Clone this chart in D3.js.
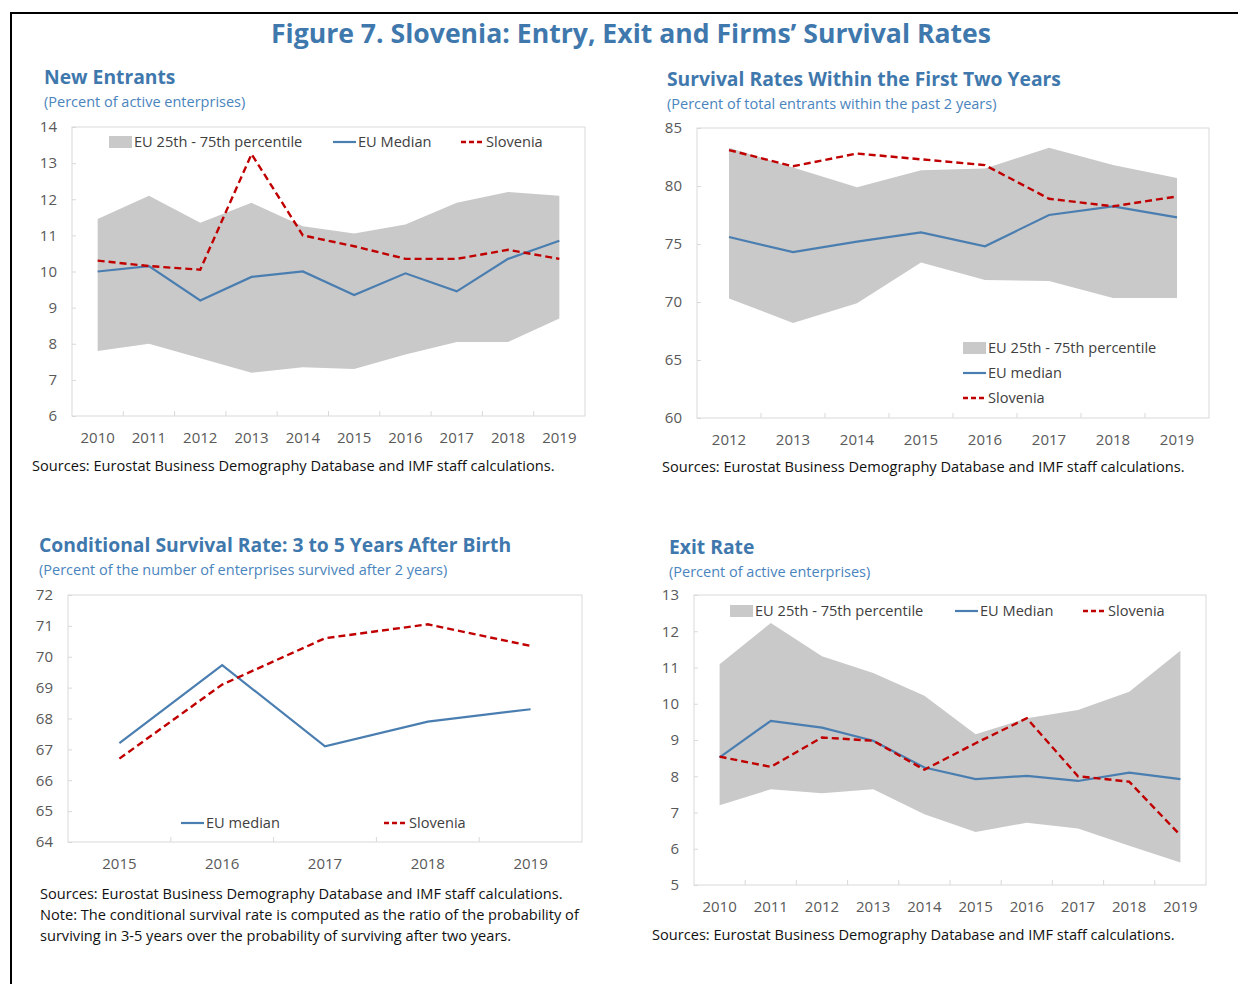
<!DOCTYPE html>
<html>
<head>
<meta charset="utf-8">
<script src="https://cdn.jsdelivr.net/npm/d3@7"></script>
<style>
  body { margin: 0; background: #fff; }
  svg { font-family: "Open Sans", sans-serif; display: block; }
  .tick-label { fill: #595959; font-size: 15px; }
  .legend-text { fill: #404040; font-size: 14.6px; }
  .panel-title { fill: #3f78ad; font-size: 19.3px; font-weight: bold; }
  .panel-sub { fill: #4a84bd; font-size: 14.5px; }
  .source { fill: #111; font-size: 14.6px; }
</style>
</head>
<body>
<div id="chart"></div>
<script>
// ---- data ----
var entryYears = ["2010","2011","2012","2013","2014","2015","2016","2017","2018","2019"];
var entryP75 = [11.45, 12.1, 11.35, 11.9, 11.25, 11.05, 11.3, 11.9, 12.2, 12.1];
var entryP25 = [7.8, 8.0, 7.6, 7.2, 7.35, 7.3, 7.7, 8.05, 8.05, 8.7];
var entryMedian = [10.0, 10.15, 9.2, 9.85, 10.0, 9.35, 9.95, 9.45, 10.35, 10.85];
var entrySlovenia = [10.3, 10.15, 10.05, 13.25, 11.0, 10.7, 10.35, 10.35, 10.6, 10.35];
var entryTicks = [6, 7, 8, 9, 10, 11, 12, 13, 14];

var survYears = ["2012","2013","2014","2015","2016","2017","2018","2019"];
var survP75 = [83.3, 81.6, 79.9, 81.35, 81.5, 83.3, 81.8, 80.7];
var survP25 = [70.3, 68.2, 69.9, 73.4, 71.9, 71.8, 70.35, 70.35];
var survMedian = [75.6, 74.3, 75.2, 76.0, 74.8, 77.5, 78.25, 77.3];
var survSlovenia = [83.1, 81.7, 82.8, 82.3, 81.8, 78.9, 78.25, 79.1];
var survTicks = [60, 65, 70, 75, 80, 85];

var condYears = ["2015","2016","2017","2018","2019"];
var condMedian = [67.2, 69.73, 67.1, 67.9, 68.3];
var condSlovenia = [66.7, 69.1, 70.6, 71.05, 70.35];
var condTicks = [64, 65, 66, 67, 68, 69, 70, 71, 72];

var exitYears = ["2010","2011","2012","2013","2014","2015","2016","2017","2018","2019"];
var exitP75 = [11.09, 12.23, 11.31, 10.85, 10.22, 9.16, 9.6, 9.83, 10.33, 11.46];
var exitP25 = [7.2, 7.64, 7.53, 7.64, 6.95, 6.46, 6.72, 6.56, 6.08, 5.62];
var exitMedian = [8.52, 9.53, 9.34, 8.98, 8.24, 7.92, 8.01, 7.87, 8.1, 7.92];
var exitSlovenia = [8.54, 8.26, 9.07, 8.98, 8.18, 8.91, 9.6, 8.0, 7.85, 6.37];
var exitTicks = [5, 6, 7, 8, 9, 10, 11, 12, 13];

var bandColor = "#c9c9c9",
    medianColor = "#4a7eb0",
    sloveniaColor = "#c00000",
    frameColor = "#d9d9d9";

var svg = d3.select("#chart").append("svg")
    .attr("width", 1238)
    .attr("height", 984);

// outer frame (left and top edges only are visible)
svg.append("line").attr("x1", 11).attr("x2", 11).attr("y1", 12).attr("y2", 984)
    .attr("stroke", "#000").attr("stroke-width", 2);
svg.append("line").attr("x1", 10).attr("x2", 1238).attr("y1", 13).attr("y2", 13)
    .attr("stroke", "#000").attr("stroke-width", 2);

svg.append("text")
    .attr("x", 631).attr("y", 43)
    .attr("text-anchor", "middle")
    .style("fill", "#3f78ad")
    .style("font-size", "26.6px")
    .style("font-weight", "bold")
    .text("Figure 7. Slovenia: Entry, Exit and Firms\u2019 Survival Rates");

function drawPanel(p) {
  var g = svg.append("g");

  var x = d3.scaleBand().domain(p.years).range([p.left, p.right]);
  var y = d3.scaleLinear().domain(d3.extent(p.ticks)).range([p.bottom, p.top]);
  var cx = function(i) { return x(p.years[i]) + x.bandwidth() / 2; };

  // plot frame
  g.append("rect")
      .attr("x", p.left).attr("y", p.top)
      .attr("width", p.right - p.left).attr("height", p.bottom - p.top)
      .attr("fill", "none").attr("stroke", frameColor);

  // percentile band
  if (p.hi) {
    var area = d3.area()
        .x(function(d, i) { return cx(i); })
        .y0(function(d, i) { return y(p.lo[i]); })
        .y1(function(d) { return y(d); });
    g.append("path").datum(p.hi)
        .attr("d", area)
        .attr("fill", bandColor);
  }

  // y axis
  var yAxis = g.append("g")
      .attr("transform", "translate(" + p.left + ",0)")
      .call(d3.axisRight(y).tickValues(p.ticks).tickSize(4).tickFormat(""));
  yAxis.select(".domain").remove();
  yAxis.selectAll("line").attr("stroke", frameColor);
  g.selectAll(".ylab").data(p.ticks).enter().append("text")
      .attr("class", "tick-label")
      .attr("x", p.left - 15)
      .attr("y", function(d) { return y(d); })
      .attr("dy", "0.35em")
      .attr("text-anchor", "end")
      .text(function(d) { return d; });

  // x axis: labels centred in bands, ticks at band boundaries
  g.selectAll(".xtick").data(p.years.slice(1)).enter().append("line")
      .attr("x1", function(d) { return x(d); })
      .attr("x2", function(d) { return x(d); })
      .attr("y1", p.bottom).attr("y2", p.bottom - 5)
      .attr("stroke", frameColor);
  g.selectAll(".xlab").data(p.years).enter().append("text")
      .attr("class", "tick-label")
      .attr("x", function(d) { return x(d) + x.bandwidth() / 2; })
      .attr("y", p.bottom + 27)
      .attr("text-anchor", "middle")
      .text(function(d) { return d; });

  var line = d3.line()
      .x(function(d, i) { return cx(i); })
      .y(function(d) { return y(d); });

  g.append("path").datum(p.median)
      .attr("d", line)
      .attr("fill", "none")
      .attr("stroke", medianColor)
      .attr("stroke-width", 2.2);

  g.append("path").datum(p.slovenia)
      .attr("d", line)
      .attr("fill", "none")
      .attr("stroke", sloveniaColor)
      .attr("stroke-width", 2.4)
      .attr("stroke-dasharray", "7,4");

  // legend
  p.legend.forEach(function(l) {
    if (l.kind == "band") {
      g.append("rect").attr("x", l.x).attr("y", l.y - 6)
          .attr("width", 23).attr("height", 12).attr("fill", bandColor);
    } else {
      g.append("line").attr("x1", l.x).attr("x2", l.x + 23)
          .attr("y1", l.y).attr("y2", l.y)
          .attr("stroke", l.kind == "median" ? medianColor : sloveniaColor)
          .attr("stroke-width", l.kind == "median" ? 2.2 : 2.4)
          .attr("stroke-dasharray", l.kind == "median" ? null : "5,3");
    }
    g.append("text").attr("class", "legend-text")
        .attr("x", l.x + 25).attr("y", l.y).attr("dy", "0.35em")
        .text(l.label);
  });

  // titles and notes
  g.append("text").attr("class", "panel-title")
      .attr("x", p.titleX).attr("y", p.titleY).text(p.title);
  g.append("text").attr("class", "panel-sub")
      .attr("x", p.titleX).attr("y", p.titleY + 23).text(p.sub);
  p.notes.forEach(function(t, i) {
    g.append("text").attr("class", "source")
        .attr("x", p.noteX).attr("y", p.noteY + i * 21).text(t);
  });
}

var sources = "Sources: Eurostat Business Demography Database and IMF staff calculations.";

drawPanel({
  years: entryYears, ticks: entryTicks, hi: entryP75, lo: entryP25,
  median: entryMedian, slovenia: entrySlovenia,
  left: 72, right: 585, top: 127, bottom: 416,
  title: "New Entrants", sub: "(Percent of active enterprises)", titleX: 44, titleY: 84,
  notes: [sources], noteX: 32, noteY: 471,
  legend: [
    {kind: "band", x: 109, y: 142, label: "EU 25th - 75th percentile"},
    {kind: "median", x: 333, y: 142, label: "EU Median"},
    {kind: "slovenia", x: 461, y: 142, label: "Slovenia"}
  ]
});

drawPanel({
  years: survYears, ticks: survTicks, hi: survP75, lo: survP25,
  median: survMedian, slovenia: survSlovenia,
  left: 697, right: 1209, top: 128, bottom: 418,
  title: "Survival Rates Within the First Two Years",
  sub: "(Percent of total entrants within the past 2 years)", titleX: 667, titleY: 86,
  notes: [sources], noteX: 662, noteY: 472,
  legend: [
    {kind: "band", x: 963, y: 348, label: "EU 25th - 75th percentile"},
    {kind: "median", x: 963, y: 373, label: "EU median"},
    {kind: "slovenia", x: 963, y: 398, label: "Slovenia"}
  ]
});

drawPanel({
  years: condYears, ticks: condTicks, hi: null, lo: null,
  median: condMedian, slovenia: condSlovenia,
  left: 68, right: 582, top: 595, bottom: 842,
  title: "Conditional Survival Rate: 3 to 5 Years After Birth",
  sub: "(Percent of the number of enterprises survived after 2 years)", titleX: 39, titleY: 552,
  notes: [sources,
    "Note: The conditional survival rate is computed as the ratio of the probability of",
    "surviving in 3-5 years over the probability of surviving after two years."],
  noteX: 40, noteY: 899,
  legend: [
    {kind: "median", x: 181, y: 823, label: "EU median"},
    {kind: "slovenia", x: 384, y: 823, label: "Slovenia"}
  ]
});

drawPanel({
  years: exitYears, ticks: exitTicks, hi: exitP75, lo: exitP25,
  median: exitMedian, slovenia: exitSlovenia,
  left: 694, right: 1206, top: 595, bottom: 885,
  title: "Exit Rate", sub: "(Percent of active enterprises)", titleX: 669, titleY: 554,
  notes: [sources], noteX: 652, noteY: 940,
  legend: [
    {kind: "band", x: 730, y: 611, label: "EU 25th - 75th percentile"},
    {kind: "median", x: 955, y: 611, label: "EU Median"},
    {kind: "slovenia", x: 1083, y: 611, label: "Slovenia"}
  ]
});
</script>
</body>
</html>
